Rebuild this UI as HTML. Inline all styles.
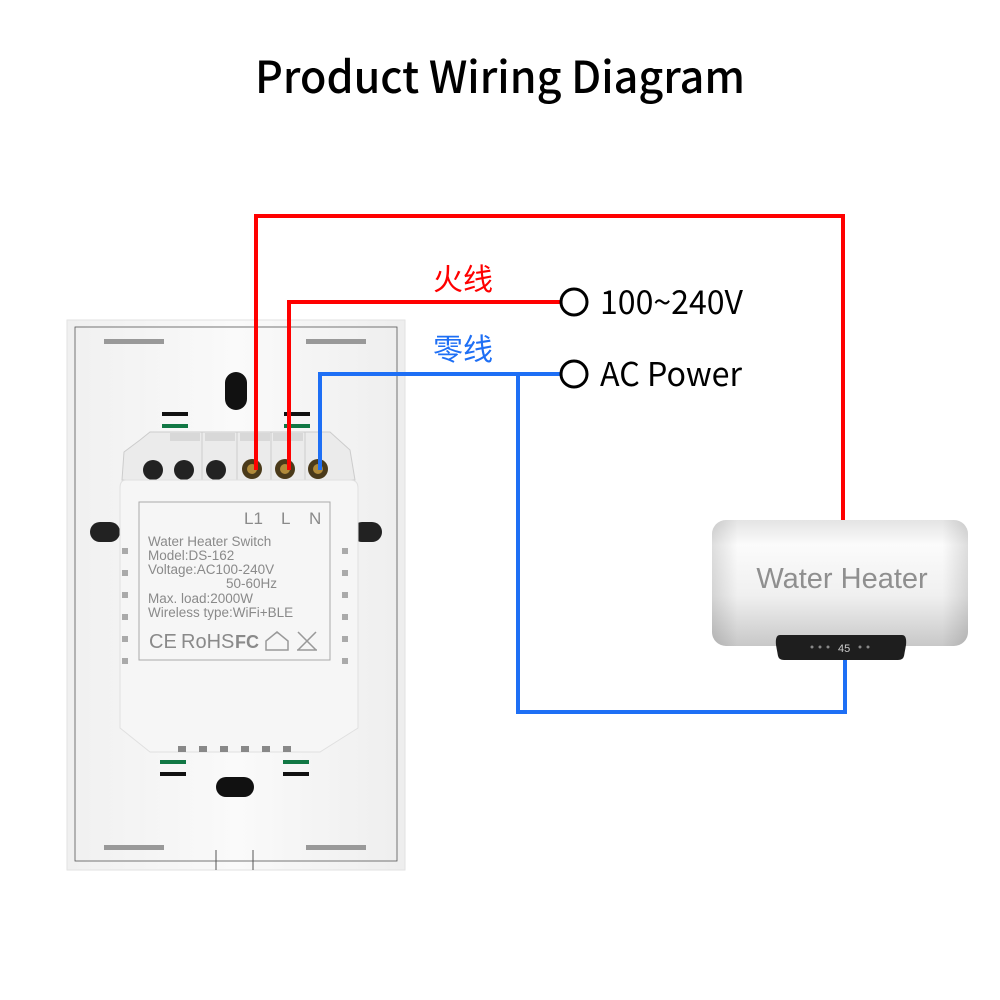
<!DOCTYPE html>
<html><head><meta charset="utf-8"><style>
html,body{margin:0;padding:0;background:#fff;width:1000px;height:1000px;overflow:hidden}
svg{display:block}
</style></head><body>
<svg width="1000" height="1000" viewBox="0 0 1000 1000" xmlns="http://www.w3.org/2000/svg">
<defs>
<linearGradient id="plate" x1="0" y1="0" x2="1" y2="0">
<stop offset="0" stop-color="#f0f0f0"/><stop offset="0.5" stop-color="#fafafa"/><stop offset="1" stop-color="#eeeeee"/>
</linearGradient>
<linearGradient id="tank" x1="0" y1="0" x2="0" y2="1">
<stop offset="0" stop-color="#e4e4e4"/><stop offset="0.2" stop-color="#fbfbfb"/><stop offset="0.6" stop-color="#f0f0f0"/><stop offset="1" stop-color="#c8c8c8"/>
</linearGradient>
<linearGradient id="tankx" x1="0" y1="0" x2="1" y2="0">
<stop offset="0" stop-color="#000" stop-opacity="0.12"/><stop offset="0.1" stop-color="#000" stop-opacity="0"/><stop offset="0.9" stop-color="#000" stop-opacity="0"/><stop offset="1" stop-color="#000" stop-opacity="0.12"/>
</linearGradient>
</defs>
<text x="500" y="93" text-anchor="middle" font-family="'Noto Sans CJK SC','Liberation Sans',sans-serif" font-size="44" fill="#000" font-weight="500" textLength="490" lengthAdjust="spacingAndGlyphs">Product Wiring Diagram</text>

<!-- plate -->
<rect x="67" y="320" width="338" height="550" fill="url(#plate)" stroke="#e2e2e2" stroke-width="1"/>
<rect x="75" y="327" width="322" height="534" fill="none" stroke="#555" stroke-width="0.8"/>
<line x1="216" y1="850" x2="216" y2="870" stroke="#555"/><line x1="253" y1="850" x2="253" y2="870" stroke="#555"/>
<rect x="104" y="339" width="60" height="5" fill="#999"/><rect x="306" y="339" width="60" height="5" fill="#999"/>
<rect x="104" y="845" width="60" height="5" fill="#999"/><rect x="306" y="845" width="60" height="5" fill="#999"/>
<rect x="225" y="372" width="22" height="38" rx="11" fill="#111"/>
<rect x="216" y="777" width="38" height="20" rx="10" fill="#111"/>
<rect x="162" y="412" width="26" height="4" fill="#111"/><rect x="162" y="424" width="26" height="4" fill="#174"/>
<rect x="284" y="412" width="26" height="4" fill="#111"/><rect x="284" y="424" width="26" height="4" fill="#174"/>
<rect x="160" y="760" width="26" height="4" fill="#174"/><rect x="160" y="772" width="26" height="4" fill="#111"/>
<rect x="283" y="760" width="26" height="4" fill="#174"/><rect x="283" y="772" width="26" height="4" fill="#111"/>
<rect x="90" y="522" width="30" height="20" rx="10" fill="#222"/><rect x="352" y="522" width="30" height="20" rx="10" fill="#222"/>
<!-- terminal block -->
<path d="M124 452 L140 440 L150 432 L330 432 L350 450 L355 480 L122 480 Z" fill="#ebebeb" stroke="#ccc"/>
<g fill="#d8d8d8"><rect x="170" y="433" width="30" height="8"/><rect x="205" y="433" width="30" height="8"/><rect x="240" y="433" width="30" height="8"/><rect x="273" y="433" width="30" height="8"/></g>
<g stroke="#ccc"><line x1="202" y1="432" x2="202" y2="480"/><line x1="237" y1="432" x2="237" y2="480"/><line x1="271" y1="432" x2="271" y2="480"/><line x1="305" y1="432" x2="305" y2="480"/></g>
<g fill="#222"><circle cx="153" cy="470" r="10"/><circle cx="184" cy="470" r="10"/><circle cx="216" cy="470" r="10"/></g>
<g fill="#4a3a1a"><circle cx="252" cy="469" r="10"/><circle cx="285" cy="469" r="10"/><circle cx="318" cy="469" r="10"/></g>
<g fill="#b08a3a"><circle cx="252" cy="469" r="5"/><circle cx="285" cy="469" r="5"/><circle cx="318" cy="469" r="5"/></g>
<!-- module -->
<path d="M126 480 Q120 480 120 488 L120 728 L150 752 L320 752 L358 728 L358 488 Q358 480 350 480 Z" fill="#f6f6f6" stroke="#e0e0e0"/>
<g fill="#888"><rect x="178" y="746" width="8" height="6"/><rect x="199" y="746" width="8" height="6"/><rect x="220" y="746" width="8" height="6"/><rect x="241" y="746" width="8" height="6"/><rect x="262" y="746" width="8" height="6"/><rect x="283" y="746" width="8" height="6"/></g>
<g fill="#aaa"><rect x="122" y="548" width="6" height="6"/><rect x="122" y="570" width="6" height="6"/><rect x="122" y="592" width="6" height="6"/><rect x="122" y="614" width="6" height="6"/><rect x="122" y="636" width="6" height="6"/><rect x="122" y="658" width="6" height="6"/>
<rect x="342" y="548" width="6" height="6"/><rect x="342" y="570" width="6" height="6"/><rect x="342" y="592" width="6" height="6"/><rect x="342" y="614" width="6" height="6"/><rect x="342" y="636" width="6" height="6"/><rect x="342" y="658" width="6" height="6"/></g>
<rect x="139" y="502" width="191" height="158" fill="none" stroke="#aaa" stroke-width="1"/>
<g font-family="'Liberation Sans',sans-serif" fill="#8a8a8a">
<text x="244" y="524" font-size="17">L1</text><text x="281" y="524" font-size="17">L</text><text x="309" y="524" font-size="17">N</text>
<text x="148" y="546" font-size="13.5">Water Heater Switch</text>
<text x="148" y="560" font-size="13.5">Model:DS-162</text>
<text x="148" y="574" font-size="13.5">Voltage:AC100-240V</text>
<text x="226" y="588" font-size="13.5">50-60Hz</text>
<text x="148" y="603" font-size="13.5">Max. load:2000W</text>
<text x="148" y="617" font-size="13.5">Wireless type:WiFi+BLE</text>
<text x="149" y="648" font-size="20">CE</text><text x="181" y="648" font-size="20">RoHS</text><text x="235" y="648" font-size="18" font-weight="bold">FC</text>
</g>
<path d="M266 650 L266 641 L277 632 L288 641 L288 650 Z" fill="none" stroke="#999" stroke-width="1.5"/>
<path d="M298 632 L316 650 M316 632 L298 650 M297 650 L317 650" stroke="#999" stroke-width="1.5"/>

<!-- heater -->
<rect x="712" y="520" width="256" height="126" rx="14" fill="url(#tank)"/>
<rect x="712" y="520" width="256" height="126" rx="14" fill="url(#tankx)"/>
<text x="842" y="588" text-anchor="middle" font-family="'Liberation Sans',sans-serif" font-size="29" fill="#8f8f8f">Water Heater</text>
<path d="M780 635 L902 635 Q907 635 906 645 L904 656 Q903 660 898 660 L784 660 Q779 660 778 656 L776 645 Q775 635 780 635 Z" fill="#1e1e1e"/>
<g fill="#888"><circle cx="812" cy="647" r="1.5"/><circle cx="820" cy="647" r="1.5"/><circle cx="828" cy="647" r="1.5"/><circle cx="860" cy="647" r="1.5"/><circle cx="868" cy="647" r="1.5"/></g>
<text x="838" y="652" font-family="'Liberation Sans',sans-serif" font-size="11" fill="#ccc">45</text>

<!-- wires -->
<g fill="none" stroke-width="4">
<path d="M256 470 V216 H843 V520" stroke="#ff0000"/>
<path d="M289 470 V302 H561" stroke="#ff0000"/>
<path d="M320 470 V374 H561" stroke="#1e6ff5"/>
<path d="M518 374 V712 H845 V660" stroke="#1e6ff5"/>
</g>
<circle cx="574" cy="302" r="13" fill="#fff" stroke="#000" stroke-width="3"/>
<circle cx="574" cy="374" r="13" fill="#fff" stroke="#000" stroke-width="3"/>
<g font-size="30" font-family="'Noto Sans CJK SC',sans-serif">
<text x="433" y="290" fill="#ff0000">火线</text>
<text x="433" y="360" fill="#1e6ff5">零线</text>
</g>
<g font-family="'Noto Sans CJK SC','Liberation Sans',sans-serif" font-size="33" fill="#000">
<text x="600" y="314" textLength="143" lengthAdjust="spacingAndGlyphs">100~240V</text>
<text x="600" y="386" textLength="142" lengthAdjust="spacingAndGlyphs">AC Power</text>
</g>
</svg>
</body></html>
